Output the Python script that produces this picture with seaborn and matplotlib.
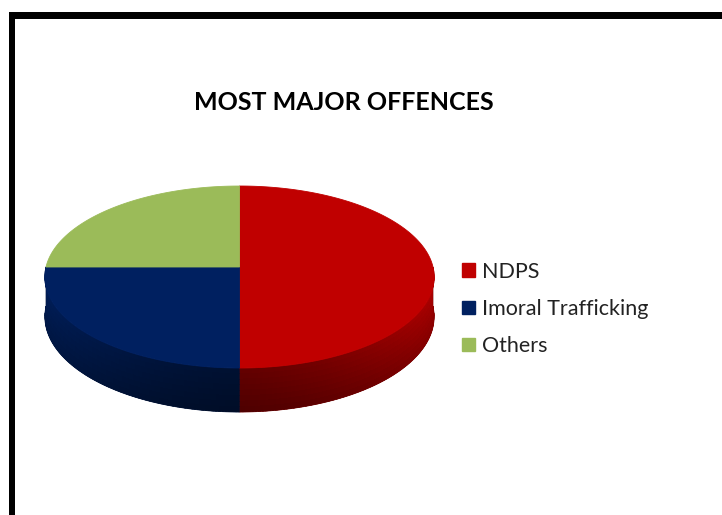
import numpy as np
import matplotlib
matplotlib.use("Agg")
import matplotlib.pyplot as plt
import matplotlib.colors as mcolors
from matplotlib.patches import Polygon, Rectangle, Patch
from matplotlib.collections import PolyCollection
import seaborn as sns

# Chart data
categories = ["NDPS", "Imoral Trafficking", "Others"]
values = [50, 25, 25]
slice_colors = ["#C00000", "#002060", "#9BBB59"]
title = "MOST MAJOR OFFENCES"

sns.set_theme(style="white")
plt.rcParams["font.family"] = ["Lato", "DejaVu Sans"]
palette = sns.color_palette(slice_colors)

W, H = 722, 515
fig = plt.figure(figsize=(W / 100, H / 100), dpi=100)
ax = fig.add_axes([0, 0, 1, 1])
ax.set_xlim(0, W)
ax.set_ylim(H, 0)
ax.axis("off")

# Black frame around the chart area
ax.add_patch(Rectangle((9, 12), W - 9, 6.5, color="black", lw=0))
ax.add_patch(Rectangle((9, 12), 6, H - 12, color="black", lw=0))

# Tilted disc with a little perspective
CX, CY = 239.5, 267.0
R, B, P, D = 193.5, 89.9, 0.11, 39.2


def project(theta, h=0.0):
    u, v = np.cos(theta), np.sin(theta)
    w = 1.0 + P * v
    return CX + R * u / w, CY + (-B * v + D * h) / w


def shade(color, f):
    r, g, b = mcolors.to_rgb(color)
    return (min(r * f, 1), min(g * f, 1), min(b * f, 1))


def wall_shade(theta, h):
    return (0.52 + 0.40 * abs(np.cos(theta)) ** 1.5) * (1.0 - 0.22 * h)


fractions = np.asarray(values, float) / np.sum(values)
ends = np.pi / 2 - 2 * np.pi * np.cumsum(fractions)
starts = np.concatenate([[np.pi / 2], ends[:-1]])

# Outer wall of each slice (only the front half faces the viewer)
bands = np.linspace(0, 1, 9)
for a0, a1, col in zip(starts, ends, palette):
    lo, hi = max(a1, -np.pi), min(a0, 0.0)
    if hi <= lo:
        continue
    th = np.linspace(lo, hi, 240)
    xt, yt = project(th, 0.0)
    xb, yb = project(th, 1.0)
    outline = np.column_stack([np.r_[xt, xb[::-1]], np.r_[yt, yb[::-1]]])
    wall = Polygon(outline, closed=True, facecolor=shade(col, 0.65),
                   edgecolor=shade(col, 0.6), lw=0.5, zorder=1)
    ax.add_patch(wall)
    polys, cols = [], []
    for t0, t1 in zip(th[:-1], th[1:]):
        tm = 0.5 * (t0 + t1)
        for h0, h1 in zip(bands[:-1], bands[1:]):
            polys.append([project(t0, h0), project(t1, h0),
                          project(t1, h1), project(t0, h1)])
            cols.append(shade(col, wall_shade(tm, 0.5 * (h0 + h1))))
    strips = PolyCollection(polys, facecolors=cols, linewidths=0,
                            antialiased=False, zorder=1.5)
    ax.add_collection(strips)
    strips.set_clip_path(wall)

# Top faces
for a0, a1, col in zip(starts, ends, palette):
    th = np.linspace(a0, a1, 300)
    xs, ys = project(th)
    pts = np.column_stack([np.r_[CX, xs], np.r_[CY, ys]])
    ax.add_patch(Polygon(pts, closed=True, facecolor=col, edgecolor=col,
                         lw=0.6, zorder=2))

ax.text(344, 103, title, ha="center", va="center", fontsize=18,
        fontweight="bold", color="black")

handles = [Patch(facecolor=c, edgecolor=c, label=l) for c, l in zip(palette, categories)]
ax.legend(handles=handles, loc="center left", bbox_to_anchor=(462 / W, 1 - 309 / H),
          frameon=False, fontsize=15.5, handlelength=0.6, handleheight=0.6,
          handletextpad=0.32, labelspacing=0.8, borderpad=0, borderaxespad=0,
          labelcolor="#222222")

fig.savefig("out.png", dpi=100, facecolor="white")
